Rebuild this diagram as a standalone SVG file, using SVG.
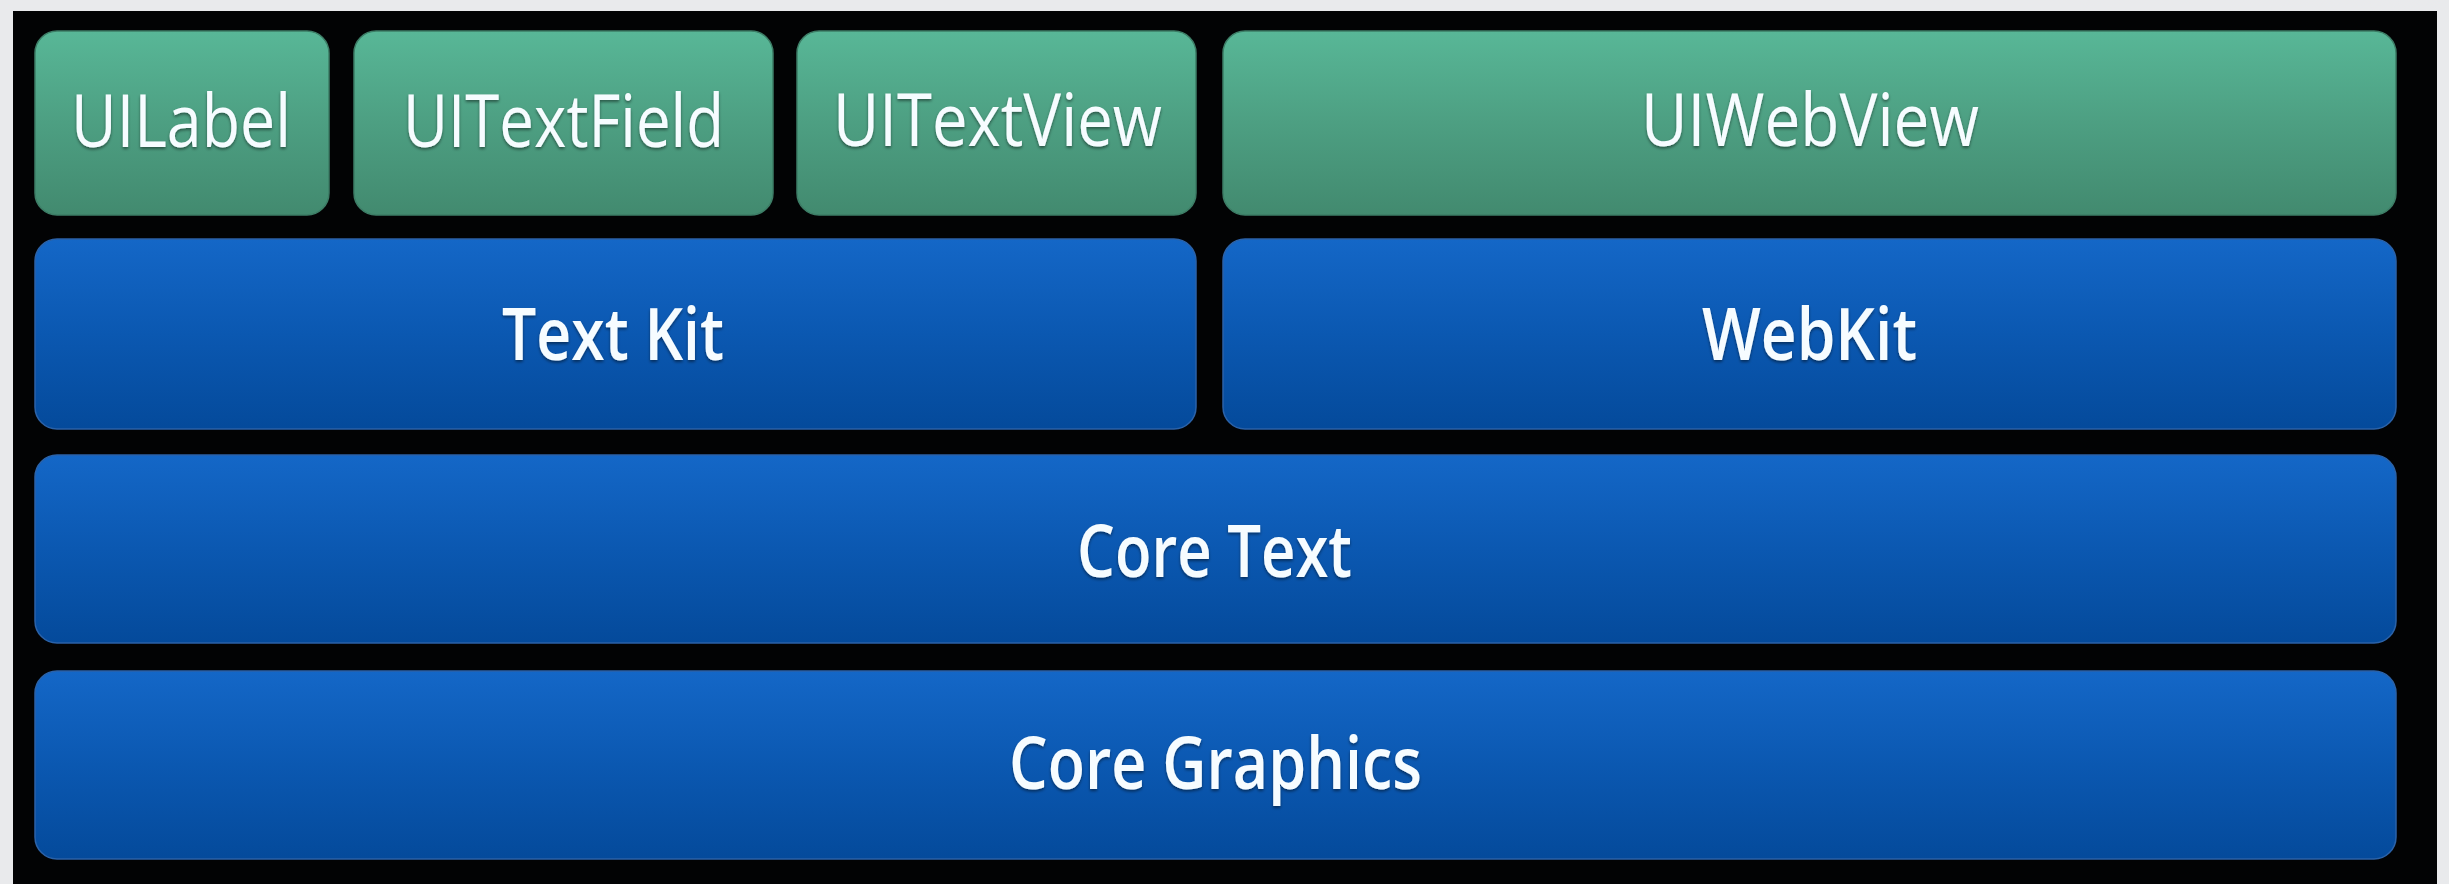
<svg xmlns="http://www.w3.org/2000/svg" width="2449" height="884" viewBox="0 0 2449 884">
  <defs>
    <linearGradient id="gGreen" x1="0" y1="0" x2="0" y2="1">
      <stop offset="0" stop-color="#58b797"/>
      <stop offset="0.5" stop-color="#4d9f82"/>
      <stop offset="1" stop-color="#428a6f"/>
    </linearGradient>
    <linearGradient id="gBlue" x1="0" y1="0" x2="0" y2="1">
      <stop offset="0" stop-color="#1467c7"/>
      <stop offset="0.5" stop-color="#0b58b1"/>
      <stop offset="1" stop-color="#044a9b"/>
    </linearGradient>
    <filter id="shadow" x="-10%" y="-30%" width="120%" height="160%">
      <feDropShadow dx="0" dy="2" stdDeviation="1.5" flood-color="#000000" flood-opacity="0.45"/>
    </filter>
  </defs>
  <style>
    .green { fill: url(#gGreen); stroke: #3d7d66; stroke-width: 1.5; }
    .blue { fill: url(#gBlue); stroke: #2b62a8; stroke-width: 1.5; }
    .lbl { font-family: "Open Sans", "Liberation Sans", sans-serif; font-size: 73px; fill: #f6fcff; text-anchor: middle; filter: url(#shadow); }
    .reg { font-weight: 400; }
    .bold { font-weight: 600; }
  </style>
  <rect x="0" y="0" width="2449" height="884" fill="#e9eaec"/>
  <rect x="13" y="11" width="2424" height="873" fill="#020304"/>

  <g id="uilabel">
    <rect class="green" x="35" y="31" width="294" height="184" rx="22" ry="22"/>
    <text class="lbl reg" x="181" y="147" textLength="220" lengthAdjust="spacingAndGlyphs">UILabel</text>
  </g>
  <g id="uitextfield">
    <rect class="green" x="354" y="31" width="419" height="184" rx="22" ry="22"/>
    <text class="lbl reg" x="563.5" y="147" textLength="321" lengthAdjust="spacingAndGlyphs">UITextField</text>
  </g>
  <g id="uitextview">
    <rect class="green" x="797" y="31" width="399" height="184" rx="22" ry="22"/>
    <text class="lbl reg" x="997.5" y="146" textLength="329" lengthAdjust="spacingAndGlyphs">UITextView</text>
  </g>
  <g id="uiwebview">
    <rect class="green" x="1223" y="31" width="1173" height="184" rx="22" ry="22"/>
    <text class="lbl reg" x="1810" y="146" textLength="338" lengthAdjust="spacingAndGlyphs">UIWebView</text>
  </g>
  <g id="textkit">
    <rect class="blue" x="35" y="239" width="1161" height="190" rx="22" ry="22"/>
    <text class="lbl bold" x="613" y="360" textLength="222" lengthAdjust="spacingAndGlyphs">Text Kit</text>
  </g>
  <g id="webkit">
    <rect class="blue" x="1223" y="239" width="1173" height="190" rx="22" ry="22"/>
    <text class="lbl bold" x="1809.5" y="360" textLength="215" lengthAdjust="spacingAndGlyphs">WebKit</text>
  </g>
  <g id="coretext">
    <rect class="blue" x="35" y="455" width="2361" height="188" rx="22" ry="22"/>
    <text class="lbl bold" x="1214.5" y="577" textLength="275" lengthAdjust="spacingAndGlyphs">Core Text</text>
  </g>
  <g id="coregraphics">
    <rect class="blue" x="35" y="671" width="2361" height="188" rx="22" ry="22"/>
    <text class="lbl bold" x="1215.5" y="789" textLength="413" lengthAdjust="spacingAndGlyphs">Core Graphics</text>
  </g>
  <g id="connectors"/>
</svg>
